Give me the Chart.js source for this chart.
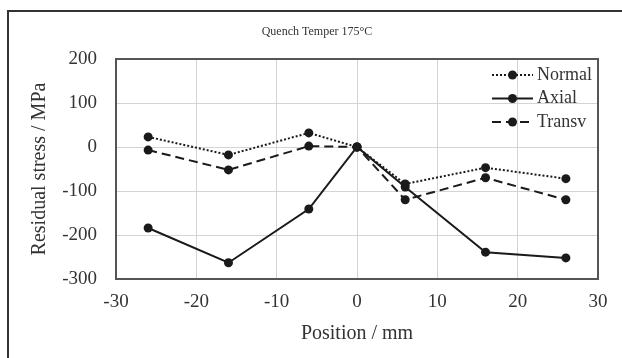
<!DOCTYPE html>
<html>
<head>
<meta charset="utf-8">
<script src="https://cdn.jsdelivr.net/npm/chart.js@4"></script>
<style>
  html, body { margin: 0; padding: 0; background: #fff; }
  #wrap { position: relative; width: 622px; height: 358px; overflow: hidden; }
  #frame { position: absolute; left: 7px; top: 10px; width: 700px; height: 400px;
           border-left: 2px solid #333; border-top: 2px solid #333; }
  canvas { position: absolute; left: 0; top: 0; }
</style>
</head>
<body>
<div id="wrap">
  <div id="frame"></div>
  <canvas id="chart" width="622" height="358"></canvas>
</div>
<script>
// positions (mm) and residual stresses (MPa)
const positions = [-26, -16, -6, 0, 6, 16, 26];
const normalStress = [23, -18, 32, 0, -84, -47, -72];
const axialStress = [-184, -263, -141, 0, -91, -239, -252];
const transvStress = [-7, -52, 2, 0, -120, -70, -120];
const xTicks = [-30, -20, -10, 0, 10, 20, 30];
const yTicks = [-300, -200, -100, 0, 100, 200];
const chartTitle = "Quench Temper 175°C";

const serif = "'Liberation Serif', 'Times New Roman', serif";

function toPoints(values) {
  return positions.map((x, i) => ({ x: x, y: values[i] }));
}

function series(label, values, dash) {
  return {
    label: label,
    data: toPoints(values),
    borderColor: "#1a1a1a",
    backgroundColor: "#1a1a1a",
    borderWidth: 2,
    borderDash: dash,
    pointRadius: 4.5,
    pointBorderWidth: 0,
    pointBackgroundColor: "#1a1a1a",
    tension: 0
  };
}

// title, plot frame and legend drawn by hand
const framePlugin = {
  id: "frame",
  afterDraw(chart) {
    const { ctx, chartArea: a } = chart;
    ctx.save();

    ctx.fillStyle = "#333";
    ctx.font = "12px " + serif;
    ctx.textAlign = "center";
    ctx.textBaseline = "middle";
    ctx.fillText(chartTitle, 317, 32);

    ctx.strokeStyle = "#555";
    ctx.lineWidth = 2;
    ctx.strokeRect(a.left, a.top, a.right - a.left, a.bottom - a.top);

    const rows = chart.data.datasets;
    const x0 = a.right - 106, x1 = x0 + 41, tx = x1 + 4;
    ctx.font = "18px " + serif;
    ctx.textAlign = "left";
    rows.forEach((ds, i) => {
      const y = a.top + 16 + i * 23.5;
      ctx.strokeStyle = ds.borderColor;
      ctx.lineWidth = 2;
      ctx.setLineDash(ds.borderDash || []);
      ctx.beginPath();
      ctx.moveTo(x0, y);
      ctx.lineTo(x1, y);
      ctx.stroke();
      ctx.setLineDash([]);
      ctx.fillStyle = ds.backgroundColor;
      ctx.beginPath();
      ctx.arc((x0 + x1) / 2, y, 4.5, 0, Math.PI * 2);
      ctx.fill();
      ctx.fillStyle = "#333";
      ctx.fillText(ds.label, tx, y);
    });
    ctx.restore();
  }
};

new Chart(document.getElementById("chart").getContext("2d"), {
  type: "line",
  data: {
    datasets: [
      series("Normal", normalStress, [2, 2]),
      series("Axial", axialStress, []),
      series("Transv", transvStress, [9, 5])
    ]
  },
  options: {
    responsive: false,
    animation: false,
    layout: { padding: { left: 0, right: 24, top: 59, bottom: 0 } },
    plugins: {
      legend: { display: false },
      tooltip: { enabled: false }
    },
    scales: {
      x: {
        type: "linear",
        min: -30,
        max: 30,
        afterBuildTicks: (s) => { s.ticks = xTicks.map(v => ({ value: v })); },
        afterFit: (s) => { s.height = 79; },
        grid: { color: "#d4d4d4", lineWidth: 1, drawTicks: false },
        border: { display: false },
        ticks: { color: "#333", padding: 12, font: { family: serif, size: 19 } },
        title: {
          display: true,
          text: "Position / mm",
          color: "#333",
          font: { family: serif, size: 20 },
          padding: { top: 0, bottom: 12 }
        }
      },
      y: {
        min: -300,
        max: 200,
        afterBuildTicks: (s) => { s.ticks = yTicks.map(v => ({ value: v })); },
        afterFit: (s) => { s.width = 116; },
        grid: { color: "#d4d4d4", lineWidth: 1, drawTicks: false },
        border: { display: false },
        ticks: { color: "#333", padding: 19, font: { family: serif, size: 19 } },
        title: {
          display: true,
          text: "Residual stress / MPa",
          color: "#333",
          font: { family: serif, size: 20 },
          padding: { top: 28, bottom: 0 }
        }
      }
    }
  },
  plugins: [framePlugin]
});
</script>
</body>
</html>
